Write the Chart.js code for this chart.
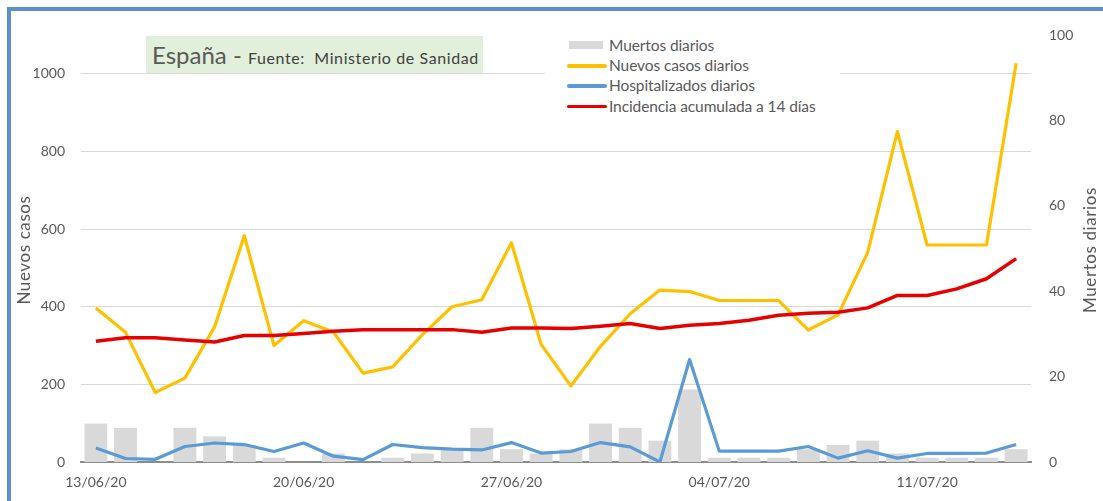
<!DOCTYPE html>
<html>
<head>
<meta charset="utf-8">
<script src="https://cdn.jsdelivr.net/npm/chart.js@4/dist/chart.umd.min.js"></script>
<style>
 html,body{margin:0;padding:0;background:#fff;overflow:hidden}
 #wrap{position:relative;width:1103px;height:501px;font-family:Lato,"Open Sans",sans-serif;color:#595959}
 #frame{position:absolute;left:7px;top:7px;width:1200px;height:600px;border-left:4px solid #5b8fd0;border-top:4px solid #5b8fd0}
 #cv{position:absolute;left:0;top:0}
 #ttl{position:absolute;left:146px;top:36px;width:337px;height:37px;background:#e2efda;white-space:nowrap;line-height:37px;padding-left:6px;box-sizing:border-box}
 #ttl .big{font-size:24px;color:#595959}
 #ttl .small{font-size:16px;color:#404040;letter-spacing:0.6px}
 #leg{position:absolute;left:545px;top:32px;width:295px;height:84px;background:#fff}
 .li{position:absolute;left:22px;height:20px;line-height:20px;font-size:15.5px;white-space:nowrap;letter-spacing:-0.1px}
 .sw{position:absolute;left:0;top:9px;width:40px;height:3.5px;border-radius:2px}
 .sw.bar{left:2px;top:6px;width:34px;height:8px;border-radius:0}
 .li span{position:absolute;left:42px;color:#595959}
</style>
</head>
<body>
<div id="wrap">
 <div id="frame"></div>
 <canvas id="cv" width="1103" height="501"></canvas>
 <div id="ttl"><span class="big">España - </span><span class="small">Fuente:&nbsp; Ministerio de Sanidad</span></div>
 <div id="leg"></div>
</div>
<script>
// 13/06/20 .. 14/07/20, one row per day
const DATES=['13/06/20','14/06/20','15/06/20','16/06/20','17/06/20','18/06/20','19/06/20','20/06/20',
 '21/06/20','22/06/20','23/06/20','24/06/20','25/06/20','26/06/20','27/06/20','28/06/20','29/06/20',
 '30/06/20','01/07/20','02/07/20','03/07/20','04/07/20','05/07/20','06/07/20','07/07/20','08/07/20',
 '09/07/20','10/07/20','11/07/20','12/07/20','13/07/20','14/07/20'];
const MUERTOS=[9,8,0,8,6,4,1,0,2,0,1,2,3,8,3,2,3,9,8,5,17,1,1,1,3,4,5,2,1,1,1,3];
const NUEVOS=[397,334,179,216,348,583,300,364,335,229,245,328,400,418,565,303,196,298,382,443,439,416,416,416,340,379,540,851,559,559,559,1027];
const HOSP=[36,9,7,40,49,45,27,49,15,6,45,37,33,31,50,23,27,50,39,0,264,28,28,28,40,10,29,10,22,22,23,45];
const INCID=[311,320,320,314,309,326,326,331,337,341,341,341,341,334,345,345,344,350,357,344,352,357,365,378,383,386,397,429,429,446,472,524];
const LEFT_TICKS={min:0,max:1100,step:200};
const RIGHT_TICKS={min:0,max:100,step:20};
const TICK_EVERY=7;

const GREY='#595959', FONT='Lato';

const axisTitles={id:'axisTitles',afterDraw(c){
 const x=c.ctx, a=c.chartArea, cy=(a.top+a.bottom)/2;
 x.save(); x.fillStyle=GREY; x.font='17px '+FONT; x.textAlign='center'; x.textBaseline='middle';
 x.letterSpacing='0.6px';
 [['Nuevos casos',25,250],['Muertos diarios',1091,250]].forEach(([t,px,py])=>{
  x.save(); x.translate(px,py); x.rotate(-Math.PI/2); x.fillText(t,0,0); x.restore();});
 x.restore();
}};

const tickFont={family:FONT,size:14};
const chart=new Chart(document.getElementById('cv'),{
 data:{labels:DATES,datasets:[
  {type:'bar',label:'Muertos diarios',data:MUERTOS,yAxisID:'y1',backgroundColor:'#d9d9d9',
   categoryPercentage:0.77,barPercentage:1,order:4},
  {type:'line',label:'Nuevos casos diarios',data:NUEVOS,yAxisID:'y',borderColor:'#ffc000',borderWidth:3.2,
   pointRadius:0,tension:0,borderJoinStyle:'round',order:3},
  {type:'line',label:'Hospitalizados diarios',data:HOSP,yAxisID:'y',borderColor:'#5b9bd5',borderWidth:3.2,
   pointRadius:0,tension:0,borderJoinStyle:'round',order:2},
  {type:'line',label:'Incidencia acumulada a 14 días',data:INCID,yAxisID:'y',borderColor:'#e60000',borderWidth:3.5,
   pointRadius:0,tension:0,borderJoinStyle:'round',order:1}
 ]},
 options:{responsive:false,animation:false,devicePixelRatio:1,
  layout:{padding:{top:35,left:0,right:0,bottom:0}},
  plugins:{legend:{display:false},tooltip:{enabled:false}},
  scales:{
   x:{offset:true,grid:{display:false},border:{display:true,color:'#8c8c8c',width:2},
    ticks:{autoSkip:false,maxRotation:0,padding:4,color:GREY,font:tickFont,
     callback:(v,i)=>i%TICK_EVERY===0?DATES[i]:''},
    afterFit:s=>{s.height=39;}},
   y:{position:'left',min:LEFT_TICKS.min,max:LEFT_TICKS.max,
    ticks:{stepSize:LEFT_TICKS.step,includeBounds:false,padding:16,color:GREY,font:tickFont,
     callback:v=>String(v)},
    grid:{color:'#d9d9d9',lineWidth:1,drawTicks:false},border:{display:false},
    afterFit:s=>{s.width=81;}},
   y1:{position:'right',min:RIGHT_TICKS.min,max:RIGHT_TICKS.max,
    ticks:{stepSize:RIGHT_TICKS.step,padding:18,color:GREY,font:tickFont},
    grid:{display:false,drawTicks:false},border:{display:false},
    afterFit:s=>{s.width=72;}}
  }},
 plugins:[axisTitles]
});

// legend built from the datasets
const leg=document.getElementById('leg');
chart.data.datasets.forEach((d,i)=>{
 const row=document.createElement('div'); row.className='li'; row.style.top=(3+i*20.2)+'px';
 const sw=document.createElement('div');
 sw.className='sw'+(d.type==='bar'?' bar':'');
 sw.style.background=d.type==='bar'?d.backgroundColor:d.borderColor;
 const t=document.createElement('span'); t.textContent=d.label;
 row.appendChild(sw); row.appendChild(t); leg.appendChild(row);
});
</script>
</body>
</html>
